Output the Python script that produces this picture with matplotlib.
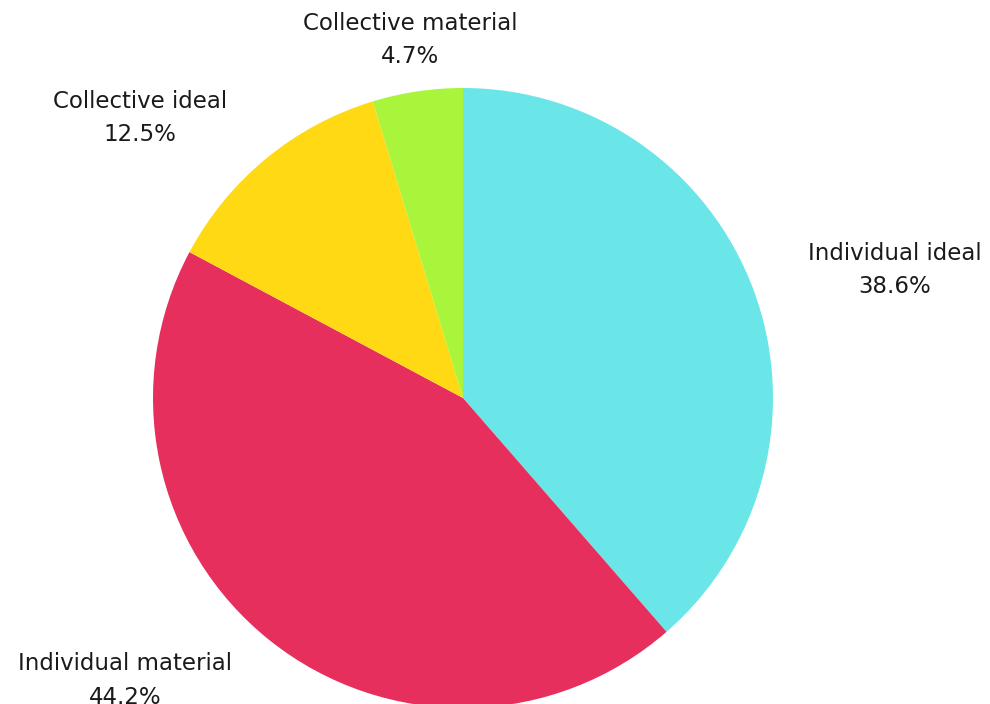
import matplotlib
matplotlib.use("Agg")
import matplotlib.pyplot as plt

labels = ["Individual ideal", "Individual material", "Collective ideal", "Collective material"]
values = [38.6, 44.2, 12.5, 4.7]
colors = ["#6be6e8", "#e62f5c", "#ffd914", "#a9f53c"]

# label text positions (pie radius = 1)
label_pos = [(1.394, 0.413), (-1.09, -0.91), (-1.042, 0.903), (-0.171, 1.155)]

plt.rcParams['font.family'] = ['DejaVu Sans']

fig = plt.figure(figsize=(9.9, 7.04), dpi=100)
ax = fig.add_axes([0, 0, 1, 1])

ax.pie(values, colors=colors, startangle=90, counterclock=False,
       wedgeprops=dict(linewidth=0))

for lab, v, (x, y) in zip(labels, values, label_pos):
    ax.text(x, y, f"{lab}\n{v}%", ha="center", va="center", fontsize=16.5,
            color="#1a1a1a", linespacing=1.6)

cx, cy, r = 463, 398, 310
ax.set_xlim(-cx / r, (990 - cx) / r)
ax.set_ylim((cy - 704) / r, cy / r)
ax.set_aspect('auto')
ax.axis('off')

fig.savefig("out.png", dpi=100)
